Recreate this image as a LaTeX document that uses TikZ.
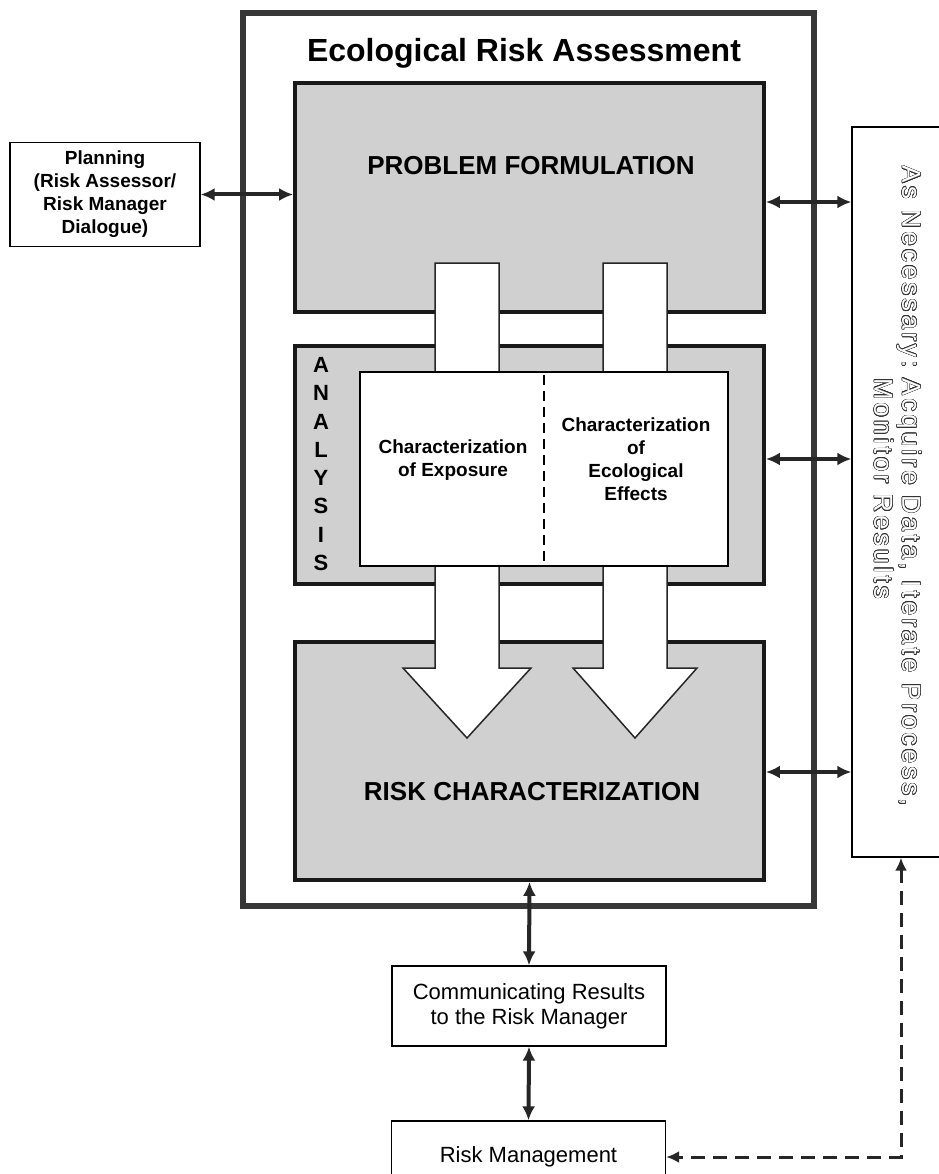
\documentclass[tikz,border=0pt]{standalone}
\usepackage{fontspec}
\setmainfont{Liberation Sans}
\newfontfamily\outlinefont[LetterSpace=12]{Liberation Sans}
\usepackage[copies]{contour}
\contourlength{0.55pt}
\usetikzlibrary{arrows.meta}

\definecolor{phasegray}{RGB}{208,208,208}
\definecolor{framegray}{RGB}{55,55,55}
\newcommand{\hollowtext}[1]{\textcolor{white}{\contour{black!80}{#1}}}

\begin{document}
\begin{tikzpicture}[x=1pt, y=-1pt,
    phasebox/.style={draw=black!90, line width=3.8pt, fill=phasegray, inner sep=0pt},
    phasetitle/.style={font=\fontsize{26}{30}\selectfont\bfseries, anchor=base},
    textbox/.style={draw, line width=1.3pt, fill=white, inner sep=0pt, align=center},
    blockarrow/.style={draw=black!85, fill=white, line width=1.5pt},
    dblarrow/.style={{Latex[length=14pt,width=13pt]}-{Latex[length=14pt,width=13pt]}, line width=4pt, black!85},
    dasharrow/.style={{Latex[length=13pt,width=12pt]}-{Latex[length=13pt,width=12pt]}, line width=3pt, dash pattern=on 14pt off 8pt, black!85}]
    \useasboundingbox (0,0) rectangle (938,1174);
    \fill[white] (0,0) rectangle (938,1174);

    % Outer frame
    \node[draw=framegray, line width=6pt, minimum width=571pt, minimum height=893pt, inner sep=0pt] (era) at (528.5,459.5) {};
    \node[font=\fontsize{32}{36}\selectfont\bfseries, anchor=base] (eratitle) at (524,62) {Ecological Risk Assessment};

    % Phases
    \node[phasebox, minimum width=469pt, minimum height=229pt] (pf) at (529.5,197.5) {};
    \node[phasebox, minimum width=469pt, minimum height=238pt] (an) at (529.5,465) {};
    \node[phasebox, minimum width=469pt, minimum height=238pt] (rc) at (529.5,761) {};

    % Block arrows
    \draw[blockarrow] (435,263) -- (499,263) -- (499,668) -- (531,668) -- (467,738) -- (403,668) -- (435,668) -- cycle;
    \draw[blockarrow] (603,263) -- (667,263) -- (667,668) -- (697,668) -- (635,738) -- (573,668) -- (603,668) -- cycle;

    % Analysis
    \node[textbox, line width=1.5pt, minimum width=368pt, minimum height=194pt] (anbox) at (544,469) {};
    \draw[line width=1.5pt, dash pattern=on 10pt off 6pt] ([yshift=-4pt]anbox.north) -- ([yshift=4pt]anbox.south);
    \node[font=\fontsize{22}{28.3}\selectfont\bfseries, align=center] (anlabel) at (321,464) {A\\N\\A\\L\\Y\\S\\I\\S};
    \node[font=\fontsize{19}{23}\selectfont\bfseries, align=center] (expo) at (453,460) {Characterization\\of Exposure};
    \node[font=\fontsize{19}{23}\selectfont\bfseries, align=center] (eff) at (636,459) {Characterization\\of\\Ecological\\Effects};

    % Phase titles
    \node[phasetitle] (pftitle) at (531,175) {PROBLEM FORMULATION};
    \node[phasetitle] (rctitle) at (532,800) {RISK CHARACTERIZATION};

    % Side boxes
    \node[textbox, minimum width=190pt, minimum height=104pt, font=\fontsize{19}{23}\selectfont\bfseries] (plan) at (105,194.5) {Planning\\(Risk Assessor/\\Risk Manager\\Dialogue)};
    \node[textbox, rotate=-90, minimum width=730pt, minimum height=98pt, font=\outlinefont\fontsize{26}{28}\selectfont] (monitor) at (901,492)
        {\raisebox{0pt}[\dimexpr\height+14pt\relax]{\begin{tabular}{@{}l@{}l@{}}\hollowtext{As Necessary:}\ \ & \hollowtext{Acquire Data, Iterate Process,}\\ & \hollowtext{Monitor Results}\end{tabular}}\hspace*{12pt}};
    \node[textbox, minimum width=274pt, minimum height=80pt, font=\fontsize{22}{25}\selectfont] (comm) at (529,1006) {Communicating Results\\to the Risk Manager};
    \node[textbox, minimum width=274pt, minimum height=72pt, font=\fontsize{22}{25}\selectfont] (rm) at (528.5,1157) {Risk Management};

    % Links
    \draw[dblarrow] (plan.east) -- (plan.east -| pf.west);
    \draw[dblarrow] ([yshift=-4.5pt]pf.east) -- ([yshift=-4.5pt]pf.east -| monitor.south);
    \draw[dblarrow] ([yshift=6pt]an.east) -- ([yshift=6pt]an.east -| monitor.south);
    \draw[dblarrow] ([yshift=-11pt]rc.east) -- ([yshift=-11pt]rc.east -| monitor.south);
    \draw[dblarrow] (rc.south) -- (comm.north);
    \draw[dblarrow] (comm.south) -- (rm.north);
    \draw[dasharrow] (monitor.east) |- (rm.east);
\end{tikzpicture}
\end{document}
